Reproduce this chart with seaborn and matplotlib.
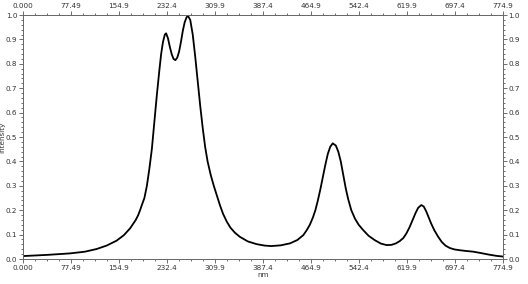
import matplotlib
matplotlib.use("Agg")
import matplotlib.pyplot as plt
import seaborn as sns
import pandas as pd
from matplotlib.ticker import FixedLocator, FixedFormatter, MultipleLocator

wavelength = [0, 40, 76, 100, 119, 135, 151, 163, 173, 182, 186, 189, 192, 196, 200,
              204, 208, 212, 216, 220, 223, 226, 229, 231, 234, 237, 240, 243, 246,
              249, 252, 255, 258, 261, 264, 266, 270, 274, 278, 282, 286, 290, 294,
              298, 303, 308, 313, 318, 323, 329, 335, 342, 350, 363, 377, 390, 401,
              416, 431, 443, 452.6, 458, 463, 468, 472, 476, 480, 484, 488, 492, 496,
              500, 505, 509, 513, 517, 521, 525, 530, 536, 542, 549, 558, 568, 578,
              587, 595, 602, 608, 614, 619, 624, 629, 634, 638, 643, 647, 651, 655,
              659, 664, 670, 676, 682, 689, 697, 705, 715, 727, 740, 752, 764, 774.9]
intensity = [0.012, 0.017, 0.023, 0.030, 0.041, 0.055, 0.075, 0.098, 0.126, 0.160,
             0.180, 0.200, 0.222, 0.250, 0.300, 0.370, 0.450, 0.560, 0.670, 0.770,
             0.840, 0.890, 0.920, 0.925, 0.905, 0.870, 0.840, 0.820, 0.815, 0.825,
             0.850, 0.890, 0.935, 0.970, 0.990, 0.998, 0.980, 0.920, 0.830, 0.730,
             0.630, 0.540, 0.460, 0.400, 0.345, 0.300, 0.260, 0.220, 0.185, 0.153,
             0.128, 0.108, 0.091, 0.072, 0.061, 0.055, 0.053, 0.056, 0.064, 0.078,
             0.098, 0.118, 0.140, 0.170, 0.200, 0.240, 0.285, 0.335, 0.385, 0.430,
             0.460, 0.474, 0.465, 0.440, 0.400, 0.345, 0.290, 0.245, 0.200, 0.165,
             0.140, 0.119, 0.095, 0.077, 0.063, 0.057, 0.058, 0.064, 0.073, 0.086,
             0.105, 0.130, 0.160, 0.190, 0.210, 0.221, 0.215, 0.195, 0.170, 0.145,
             0.118, 0.092, 0.070, 0.055, 0.045, 0.039, 0.036, 0.033, 0.030, 0.024,
             0.018, 0.013, 0.010]

x_ticks = [0.0, 77.49, 154.98, 232.47, 309.96, 387.45, 464.94, 542.43, 619.92, 697.41, 774.9]
x_tick_labels = ["0.000", "77.49", "154.9", "232.4", "309.9", "387.4", "464.9",
                 "542.4", "619.9", "697.4", "774.9"]
y_ticks = [0.0, 0.1, 0.2, 0.3, 0.4, 0.5, 0.6, 0.7, 0.8, 0.9, 1.0]
y_tick_labels = ["0.0", "0.1", "0.2", "0.3", "0.4", "0.5", "0.6", "0.7", "0.8", "0.9", "1.0"]

df = pd.DataFrame({"nm": wavelength, "Intensity": intensity})

sns.set_theme(style="ticks")
plt.rcParams['font.family'] = ['DejaVu Sans']

fig = plt.figure(figsize=(5.28, 2.84), dpi=100)
ax = fig.add_axes([23/528, 1-259/284, 480/528, 244/284])
sns.lineplot(data=df, x="nm", y="Intensity", ax=ax, color="black", linewidth=1.3)

ax.set_xlim(0, 774.9)
ax.set_ylim(0, 1.0)
ax.xaxis.set_major_locator(FixedLocator(x_ticks))
ax.xaxis.set_major_formatter(FixedFormatter(x_tick_labels))
ax.xaxis.set_minor_locator(MultipleLocator(774.9/40))
ax.yaxis.set_major_locator(FixedLocator(y_ticks))
ax.yaxis.set_major_formatter(FixedFormatter(y_tick_labels))
ax.yaxis.set_minor_locator(MultipleLocator(0.02))

ax.tick_params(which="both", top=True, right=True, labeltop=True, labelright=True,
               direction="out", colors="#555555", labelcolor="#333333",
               width=0.6)
ax.tick_params(which="major", length=3, labelsize=5.2, pad=1)
ax.tick_params(which="minor", length=1.5)
for s in ax.spines.values():
    s.set_visible(True)
    s.set_color("#666666")
    s.set_linewidth(0.7)

ax.set_xlabel("nm", fontsize=5.2, color="#333333", labelpad=1)
ax.set_ylabel("Intensity", fontsize=5.2, color="#333333")
ax.yaxis.set_label_coords(-0.037, 0.5)

fig.savefig("out.png", dpi=100)
